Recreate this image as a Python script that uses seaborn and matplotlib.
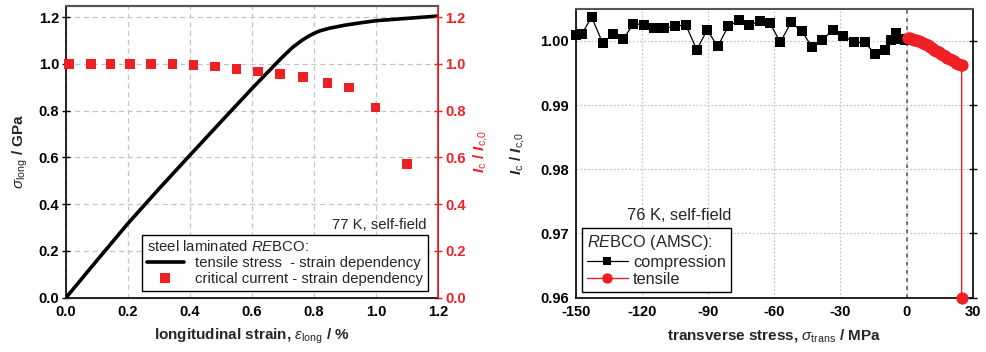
import numpy as np
import pandas as pd
import matplotlib
matplotlib.use("Agg")
import matplotlib.pyplot as plt
from matplotlib.lines import Line2D
import seaborn as sns

# --- longitudinal tensile test of steel laminated REBCO (77 K, self-field) ---
strain_curve = [0.0, 0.10, 0.20, 0.30, 0.40, 0.50, 0.60, 0.68, 0.70, 0.73, 0.76,
                0.78, 0.80, 0.82, 0.85, 0.90, 0.95, 1.00, 1.10, 1.20]
stress_curve = [0.0, 0.160, 0.318, 0.466, 0.610, 0.753, 0.895, 1.005, 1.032, 1.070, 1.100,
                1.117, 1.131, 1.142, 1.153, 1.166, 1.176, 1.185, 1.195, 1.205]

strain_ic = [0.01, 0.08, 0.143, 0.206, 0.275, 0.343, 0.411, 0.480, 0.550, 0.620,
             0.691, 0.765, 0.843, 0.912, 0.998, 1.099]
ic_norm_long = [1.0, 1.0, 1.0, 1.0, 1.0, 0.999, 0.996, 0.989, 0.979, 0.967,
                0.956, 0.943, 0.919, 0.900, 0.814, 0.571]

# --- transverse stress test of REBCO (AMSC) tape (76 K, self-field) ---
stress_comp = [-150.0, -147.4, -142.9, -137.9, -133.1, -128.5, -124.0, -119.0, -114.5,
               -110.0, -105.2, -100.2, -95.2, -90.5, -85.7, -81.0, -76.2, -71.5, -66.7,
               -62.0, -57.3, -52.4, -47.4, -42.9, -38.4, -33.5, -28.8, -23.8, -19.0,
               -14.2, -9.6, -7.2, -4.9, -2.9, -0.6]
ic_comp = [1.00094, 1.00104, 1.00369, 0.99964, 1.00104, 1.00026, 1.00265, 1.00249, 1.00197,
           1.00197, 1.00223, 1.00249, 0.99860, 1.00171, 0.99912, 1.00223, 1.00317, 1.00249,
           1.00301, 1.00275, 0.99979, 1.00286, 1.00145, 0.99901, 1.00005, 1.00171, 1.00078,
           0.99974, 0.99974, 0.99792, 0.99860, 1.00005, 1.00119, 1.00026, 1.00005]

stress_tens = [0.5, 1.5, 2.5, 3.5, 4.5, 5.5, 6.5, 7.5, 8.5, 9.5, 10.5, 11.5, 12.5, 13.5,
               14.5, 15.5, 16.5, 17.5, 18.5, 19.5, 20.5, 21.5, 22.5, 23.5, 24.5, 25.0, 25.0]
ic_tens = [1.0005, 1.0004, 1.0003, 1.0002, 1.0001, 0.9999, 0.9998, 0.9996, 0.9995, 0.9993,
           0.9991, 0.9989, 0.9986, 0.9984, 0.9982, 0.9980, 0.9978, 0.9976, 0.9974, 0.9972,
           0.9970, 0.9968, 0.9966, 0.9964, 0.9963, 0.9962, 0.9600]

left_xticks = [0.0, 0.2, 0.4, 0.6, 0.8, 1.0, 1.2]
left_yticks = [0.0, 0.2, 0.4, 0.6, 0.8, 1.0, 1.2]
right_xticks = [-150, -120, -90, -60, -30, 0, 30]
right_yticks = [0.96, 0.97, 0.98, 0.99, 1.00]

sns.set_style("white")
plt.rcParams["font.family"] = ["Liberation Sans", "DejaVu Sans"]
plt.rcParams["mathtext.fontset"] = "custom"
plt.rcParams["mathtext.rm"] = "Liberation Sans"
plt.rcParams["mathtext.it"] = "Liberation Sans:italic"
plt.rcParams["mathtext.bf"] = "Liberation Sans:bold"
plt.rcParams["mathtext.bfit"] = "Liberation Sans:bold:italic"

RED = "#ee2024"
IC_LABEL = r"$\mathbfit{I}_{\mathrm{c}}$ / $\mathbfit{I}_{\mathrm{c{,}0}}$"

fig = plt.figure(figsize=(9.87, 3.52), dpi=100)
ax1 = fig.add_axes([0.0669, 0.1543, 0.3769, 0.8287])
ax2 = ax1.twinx()
ax3 = fig.add_axes([0.5836, 0.1543, 0.4019, 0.8210])

TICK_FS = 10.5
LABEL_FS = 11

def style_ticks(ax, color="black"):
    ax.tick_params(direction="inout", length=6, width=1, colors=color,
                   labelsize=TICK_FS, pad=2)
    for lab in ax.get_xticklabels() + ax.get_yticklabels():
        lab.set_fontweight("bold")

# ---------------- left panel ----------------
df_curve = pd.DataFrame({"strain": strain_curve, "stress": stress_curve})
sns.lineplot(data=df_curve, x="strain", y="stress", ax=ax1, color="black",
             linewidth=2.6, estimator=None, sort=False, zorder=3)
df_ic = pd.DataFrame({"strain": strain_ic, "ic": ic_norm_long})
sns.scatterplot(data=df_ic, x="strain", y="ic", ax=ax2, marker="s", s=48,
                color=RED, edgecolor="none", linewidth=0, zorder=3, clip_on=False)

ax1.set_xlim(0, 1.2)
ax1.set_ylim(0, 1.248)
ax2.set_ylim(0, 1.248)
ax1.set_xticks(left_xticks)
ax1.set_yticks(left_yticks)
ax2.set_yticks(left_yticks)
ax1.set_xticklabels([f"{v:.1f}" for v in left_xticks])
ax1.set_yticklabels([f"{v:.1f}" for v in left_yticks])
ax2.set_yticklabels([f"{v:.1f}" for v in left_yticks])
ax1.grid(True, color="#c4c4c4", linestyle=(0, (4, 3)), linewidth=0.9)
ax1.set_axisbelow(True)
style_ticks(ax1)
style_ticks(ax2, RED)
ax2.tick_params(axis="y", labelcolor=RED)
for sp in ["left", "bottom"]:
    ax1.spines[sp].set_color("black")
    ax1.spines[sp].set_linewidth(1.2)
ax1.spines["top"].set_color("#555555")
ax1.spines["top"].set_linewidth(1.5)
ax2.spines["right"].set_color(RED)
ax2.spines["right"].set_linewidth(1.2)
ax2.spines["top"].set_color("#555555")
ax2.spines["top"].set_linewidth(1.5)
ax2.spines["left"].set_visible(False)

ax1.set_xlabel(r"longitudinal strain, $\varepsilon_{\mathrm{long}}$ / %",
               fontsize=LABEL_FS, fontweight="bold", labelpad=6)
ax1.set_ylabel(r"$\sigma_{\mathrm{long}}$ / GPa", fontsize=LABEL_FS,
               fontweight="bold", labelpad=6)
ax2.set_ylabel(IC_LABEL, fontsize=LABEL_FS, fontweight="bold", color=RED, labelpad=4)

h_left = [Line2D([], [], color="black", linewidth=2.6),
          Line2D([], [], color=RED, marker="s", markersize=7, linestyle="none",
                 markeredgewidth=0)]
leg1 = ax1.legend(h_left, ["tensile stress  - strain dependency",
                           "critical current - strain dependency"],
                  title=r"steel laminated $\mathit{RE}$BCO:", alignment="left",
                  loc="lower right", bbox_to_anchor=(0.972, 0.024),
                  fontsize=10.7, title_fontsize=10.7, frameon=True, fancybox=False,
                  edgecolor="black", framealpha=1, handlelength=2.5,
                  handletextpad=0.75, labelspacing=0.12, borderpad=0.32,
                  borderaxespad=0)
leg1.get_frame().set_linewidth(1.0)
leg1.set_zorder(10)
ax1.text(0.968, 0.226, "77 K, self-field", transform=ax1.transAxes,
         ha="right", va="bottom", fontsize=10.7)

# ---------------- right panel ----------------
df_comp = pd.DataFrame({"stress": stress_comp, "ic": ic_comp})
df_tens = pd.DataFrame({"stress": stress_tens, "ic": ic_tens})
sns.lineplot(data=df_comp, x="stress", y="ic", ax=ax3, color="black",
             linewidth=0.9, marker="s", markersize=7.4, markeredgewidth=0,
             estimator=None, sort=False, zorder=3, clip_on=False)
sns.lineplot(data=df_tens, x="stress", y="ic", ax=ax3, color=RED,
             linewidth=1.0, marker="o", markersize=8.8, markeredgewidth=0,
             estimator=None, sort=False, zorder=4, clip_on=False)
ax3.axvline(0, color="#666666", linestyle=(0, (2, 2.5)), linewidth=1.3, zorder=2)

ax3.set_xlim(-150, 30)
ax3.set_ylim(0.96, 1.005)
ax3.set_xticks(right_xticks)
ax3.set_yticks(right_yticks)
ax3.set_xticklabels([f"{v:d}" for v in right_xticks])
ax3.set_yticklabels([f"{v:.2f}" for v in right_yticks])
ax3.grid(True, color="#c4c4c4", linestyle=(0, (1.5, 1.5)), linewidth=0.9)
ax3.set_axisbelow(True)
style_ticks(ax3)
ax3.tick_params(axis="y", right=True)
for sp in ["left", "bottom", "right"]:
    ax3.spines[sp].set_color("black")
    ax3.spines[sp].set_linewidth(1.2)
ax3.spines["top"].set_color("#555555")
ax3.spines["top"].set_linewidth(1.5)

ax3.set_xlabel(r"transverse stress, $\sigma_{\mathrm{trans}}$ / MPa",
               fontsize=LABEL_FS, fontweight="bold", labelpad=6)
ax3.set_ylabel(IC_LABEL, fontsize=LABEL_FS, fontweight="bold", labelpad=10)

h_right = [Line2D([], [], color="black", linewidth=0.9, marker="s", markersize=6,
                  markeredgewidth=0),
           Line2D([], [], color=RED, linewidth=1.0, marker="o", markersize=7.5,
                  markeredgewidth=0)]
leg3 = ax3.legend(h_right, ["compression", "tensile"],
                  title=r"$\mathit{RE}$BCO (AMSC):", alignment="left",
                  loc="lower left", bbox_to_anchor=(0.015, 0.02),
                  fontsize=11.8, title_fontsize=11.8, frameon=True, fancybox=False,
                  edgecolor="black", framealpha=1, handlelength=2.5,
                  handletextpad=0.3, labelspacing=0.15, borderpad=0.3,
                  borderaxespad=0)
leg3.get_frame().set_linewidth(1.0)
leg3.set_zorder(10)
ax3.text(0.391, 0.258, "76 K, self-field", transform=ax3.transAxes,
         ha="right", va="bottom", fontsize=11.8)

fig.savefig("out.png", dpi=100)
